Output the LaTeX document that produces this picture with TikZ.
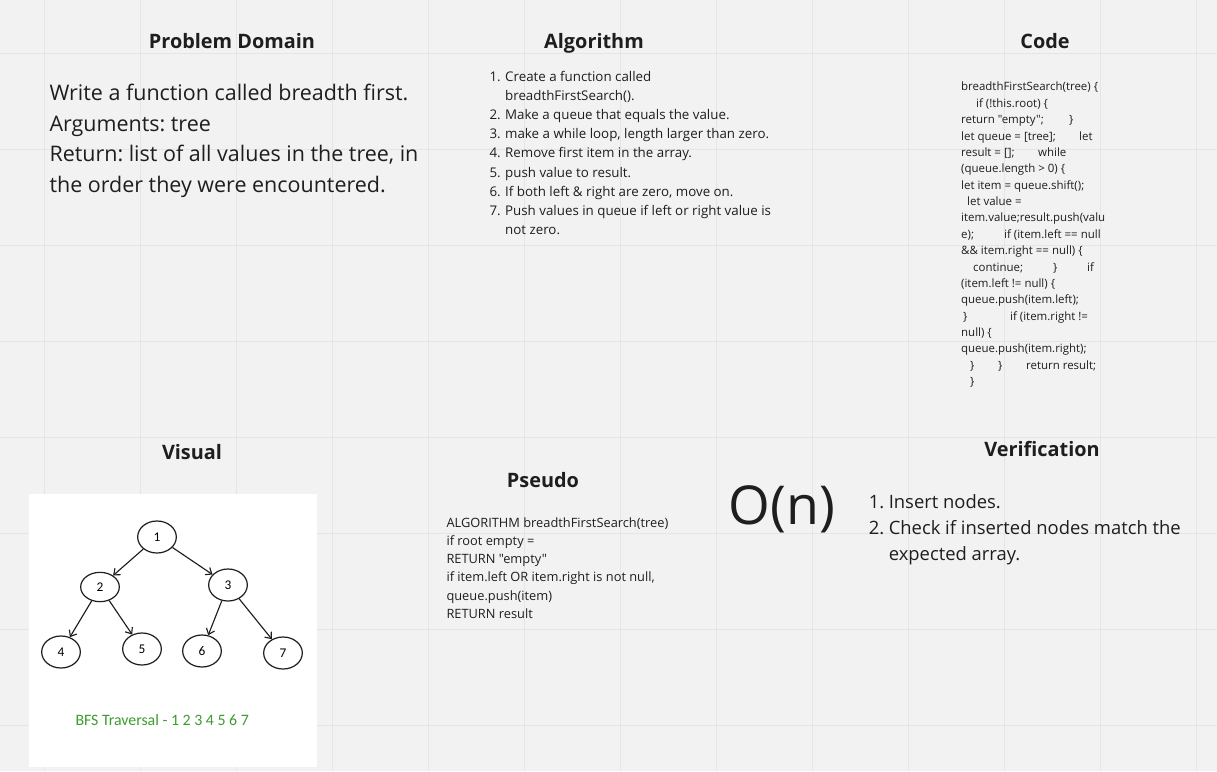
\documentclass[tikz,border=0pt]{standalone}
\usepackage{fontspec}
\setmainfont{Open Sans}[Ligatures=TeXOff]
\newfontfamily\calibrifont{Carlito}
\usetikzlibrary{shapes.geometric,arrows.meta}
\tikzset{every picture/.style={line width=0.75pt}}
\frenchspacing

\definecolor{boardbg}{RGB}{242,242,242}
\definecolor{gridgray}{RGB}{229,229,229}
\definecolor{inkgray}{RGB}{30,30,30}
\definecolor{bfsgreen}{RGB}{62,155,48}
\newcommand{\codeat}[2]{\makebox[0pt][l]{\hspace*{#1}#2}}

\begin{document}
\begin{tikzpicture}[x=0.75pt,y=0.75pt,yscale=-1,xscale=1,
  headline/.style={anchor=base,inner sep=0.75pt,text=inkgray,font=\fontsize{14.9}{18}\selectfont\bfseries},
  bodytext/.style={anchor=base west,inner sep=0pt,text=inkgray,align=left},
  treenode/.style={draw=inkgray,ellipse,inner sep=0pt,minimum width=29pt,minimum height=24pt,line width=0.9pt,font=\calibrifont\fontsize{10}{12}\selectfont},
  treearrow/.style={-{Straight Barb[length=4pt,width=6.5pt]},draw=inkgray,line width=0.85pt}]
\useasboundingbox (0,0) rectangle (1217,771);

%Shape: Rectangle [id:board]
\fill [boardbg] (0,0) rectangle (1217,771);
%Straight Lines [id:grid]
\draw [gridgray] (44,0) -- (44,771) (140,0) -- (140,771) (236,0) -- (236,771) (332,0) -- (332,771) (428,0) -- (428,771) (524,0) -- (524,771) (620,0) -- (620,771) (716,0) -- (716,771) (812,0) -- (812,771) (908,0) -- (908,771) (1004,0) -- (1004,771) (1100,0) -- (1100,771) (1196,0) -- (1196,771);
\draw [gridgray] (0,53) -- (1217,53) (0,149) -- (1217,149) (0,245) -- (1217,245) (0,341) -- (1217,341) (0,437) -- (1217,437) (0,533) -- (1217,533) (0,629) -- (1217,629) (0,725) -- (1217,725);

% Text Node
\draw (232,48) node [headline] (probtitle) {Problem Domain};
% Text Node
\draw (594,48) node [headline] (algotitle) {Algorithm};
% Text Node
\draw (1045,48) node [headline] (codetitle) {Code};
% Text Node
\draw (192,459) node [headline] (visualtitle) {Visual};
% Text Node
\draw (543,487) node [headline] (pseudotitle) {Pseudo};
% Text Node
\draw (1042,456) node [headline] (verifytitle) {Verification};

% Text Node (anchored at the last line)
\draw (49,192.5) node [bodytext,font=\fontsize{16.1}{22.9}\selectfont] (probtext) {Write a function called breadth first.\\Arguments: tree\\Return: list of all values in the tree, in\\the order they were encountered.};

% Text Node
\draw (489,234.6) node [bodytext,font=\fontsize{10}{14.4}\selectfont] (algotext) {\makebox[11.75pt][l]{1.}Create a function called\\
\hspace*{11.75pt}breadthFirstSearch().\\
\makebox[11.75pt][l]{2.}Make a queue that equals the value.\\
\makebox[11.75pt][l]{3.}make a while loop, length larger than zero.\\
\makebox[11.75pt][l]{4.}Remove first item in the array.\\
\makebox[11.75pt][l]{5.}push value to result.\\
\makebox[11.75pt][l]{6.}If both left \& right are zero, move on.\\
\makebox[11.75pt][l]{7.}Push values in queue if left or right value is\\
\hspace*{11.75pt}not zero.};

% Text Node
\draw (960,385.7) node [bodytext,font=\fontsize{8.6}{12.28}\selectfont] (codetext) {\codeat{0pt}{breadthFirstSearch(tree) \{}\\
\codeat{11.25pt}{if (!this.root) \{}\\
\codeat{0pt}{return "empty";}\codeat{81pt}{\}}\\
\codeat{0pt}{let queue = [tree];}\codeat{88.5pt}{let}\\
\codeat{0pt}{result = [];}\codeat{57.75pt}{while}\\
\codeat{0pt}{(queue.length > 0) \{}\\
\codeat{0pt}{let item = queue.shift();}\\
\codeat{4.5pt}{let value =}\\
\codeat{0pt}{item.value;result.push(valu}\\
\codeat{0pt}{e);}\codeat{32.25pt}{if (item.left == null}\\
\codeat{0pt}{\&\& item.right == null) \{}\\
\codeat{9pt}{continue;}\codeat{69pt}{\}}\codeat{94.5pt}{if}\\
\codeat{0pt}{(item.left != null) \{}\\
\codeat{0pt}{queue.push(item.left);}\\
\codeat{1.5pt}{\}}\codeat{36.75pt}{if (item.right !=}\\
\codeat{0pt}{null) \{}\\
\codeat{0pt}{queue.push(item.right);}\\
\codeat{6.75pt}{\}}\codeat{27.75pt}{\}}\codeat{48.75pt}{return result;}\\
\codeat{6.75pt}{\}}};

% Text Node
\draw (446,618.3) node [bodytext,font=\fontsize{9.62}{13.65}\selectfont] (pseudotext) {ALGORITHM breadthFirstSearch(tree)\\if root empty =\\RETURN "empty"\\if item.left OR item.right is not null,\\queue.push(item)\\RETURN result};

% Text Node
\draw (728,524) node [anchor=base west,inner sep=0pt,text=inkgray,font=\fontsize{40.2}{48}\selectfont] (bigo) {O(n)};

% Text Node
\draw (868.3,560.7) node [bodytext,font=\fontsize{13.8}{19.65}\selectfont] (verifytext) {\makebox[15pt][l]{1.}Insert nodes.\\
\makebox[15pt][l]{2.}Check if inserted nodes match the\\
\hspace*{15pt}expected array.};

%Shape: Rectangle [id:visualimage]
\fill [white] (29,494) rectangle (317,767);

%Shape: Ellipse [id:tree]
\draw (157,537) node [treenode] (n1) {1};
\draw (100,587) node [treenode,minimum height=22pt] (n2) {2};
\draw (228,585) node [treenode] (n3) {3};
\draw (61,652) node [treenode] (n4) {4};
\draw (142,649) node [treenode] (n5) {5};
\draw (202,651) node [treenode] (n6) {6};
\draw (283,653) node [treenode] (n7) {7};
%Straight Lines [id:treeedges]
\draw [treearrow] (n1) -- (n2);
\draw [treearrow] (n1) -- (n3);
\draw [treearrow] (n2) -- (n4);
\draw [treearrow] (n2) -- (n5);
\draw [treearrow] (n3) -- (n6);
\draw [treearrow] (n3) -- (n7);

% Text Node
\draw (75,725) node [anchor=base west,inner sep=0pt,text=bfsgreen,font=\calibrifont\fontsize{11.9}{13}\selectfont] (bfslabel) {BFS Traversal - 1 2 3 4 5 6 7};

\end{tikzpicture}
\end{document}
